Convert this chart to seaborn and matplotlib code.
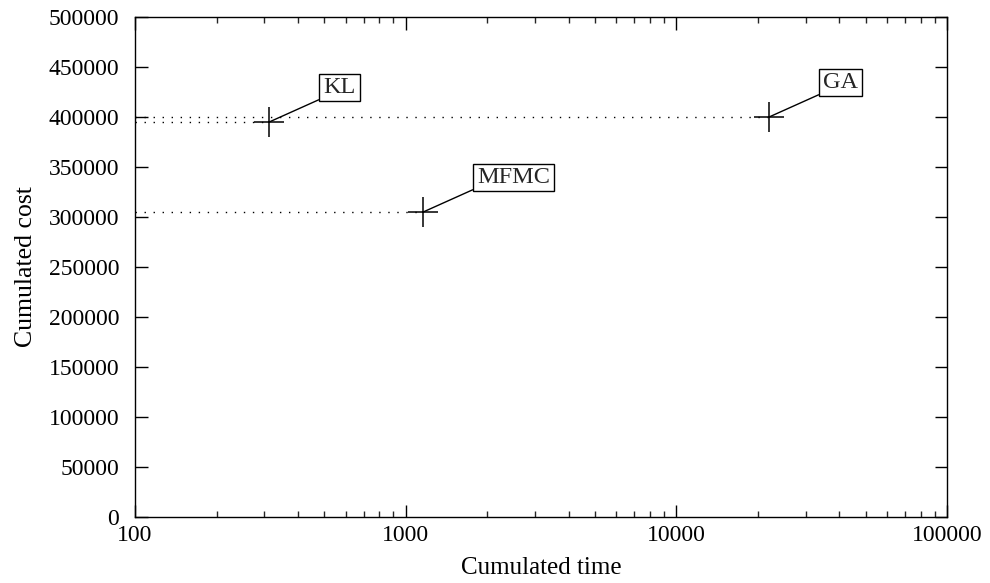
import matplotlib
matplotlib.use("Agg")
import matplotlib.pyplot as plt
from matplotlib.path import Path
import seaborn as sns
import pandas as pd

methods = ["KL", "MFMC", "GA"]
cum_time = [313, 1160, 22000]
cum_cost = [395000, 305000, 400000]
x_ticks = [100, 1000, 10000, 100000]
x_tick_labels = ["100", "1000", "10000", "100000"]
y_ticks = [0, 50000, 100000, 150000, 200000, 250000, 300000, 350000, 400000, 450000, 500000]

df = pd.DataFrame({"method": methods, "time": cum_time, "cost": cum_cost})

sns.set_theme(style="ticks")
plt.rcParams["font.family"] = ["Liberation Serif", "DejaVu Serif"]

fig, ax = plt.subplots(figsize=(9.9, 5.83), dpi=100)
fig.subplots_adjust(left=0.1364, right=0.9566, top=0.9708, bottom=0.1132)

ax.set_xscale("log")
ax.set_xlim(100, 100000)
ax.set_ylim(0, 500000)

# dotted guide lines from the left axis to each point
for t, c in zip(cum_time, cum_cost):
    ax.plot([100, t], [c, c], color="black", lw=1, linestyle=(0, (1, 5.5)), zorder=1)

sns.scatterplot(data=df, x="time", y="cost", marker="+", s=450, color="black",
                linewidth=1.1, ax=ax, zorder=3, legend=False)


def hbox(x0, y0, width, height, mutation_size):
    px = 0.17 * mutation_size
    py = 0.12 * mutation_size
    x0, y0 = x0 - px, y0 - py
    x1, y1 = x0 + width + 2 * px, y0 + height + 2 * py
    return Path([(x0, y0), (x1, y0), (x1, y1), (x0, y1), (x0, y0)], closed=True)


for m, t, c in zip(methods, cum_time, cum_cost):
    ax.annotate(m, xy=(t, c), xytext=(39, 17.5), textcoords="offset points",
                ha="left", va="bottom", fontsize=17.5,
                bbox=dict(boxstyle=hbox, fc="white", ec="black", lw=1),
                arrowprops=dict(arrowstyle="-", color="black", lw=1,
                                relpos=(0, 0), shrinkA=0, shrinkB=0))

ax.set_xticks(x_ticks)
ax.set_xticklabels(x_tick_labels)
ax.set_yticks(y_ticks)
ax.set_yticklabels([str(v) for v in y_ticks])
ax.tick_params(which="major", direction="in", length=9, width=1, top=True, right=True,
               labelsize=17, colors="black")
ax.tick_params(which="minor", direction="in", length=4.5, width=1, top=True, right=True)
ax.tick_params(axis="y", which="major", pad=11.5)
ax.tick_params(axis="x", which="major", pad=6)

for s in ax.spines.values():
    s.set_color("black")
    s.set_linewidth(1)

ax.set_xlabel("Cumulated time", fontsize=18, color="black", labelpad=8)
ax.set_ylabel("Cumulated cost", fontsize=18.5, color="black", labelpad=8)

fig.savefig("out.png", dpi=100)
